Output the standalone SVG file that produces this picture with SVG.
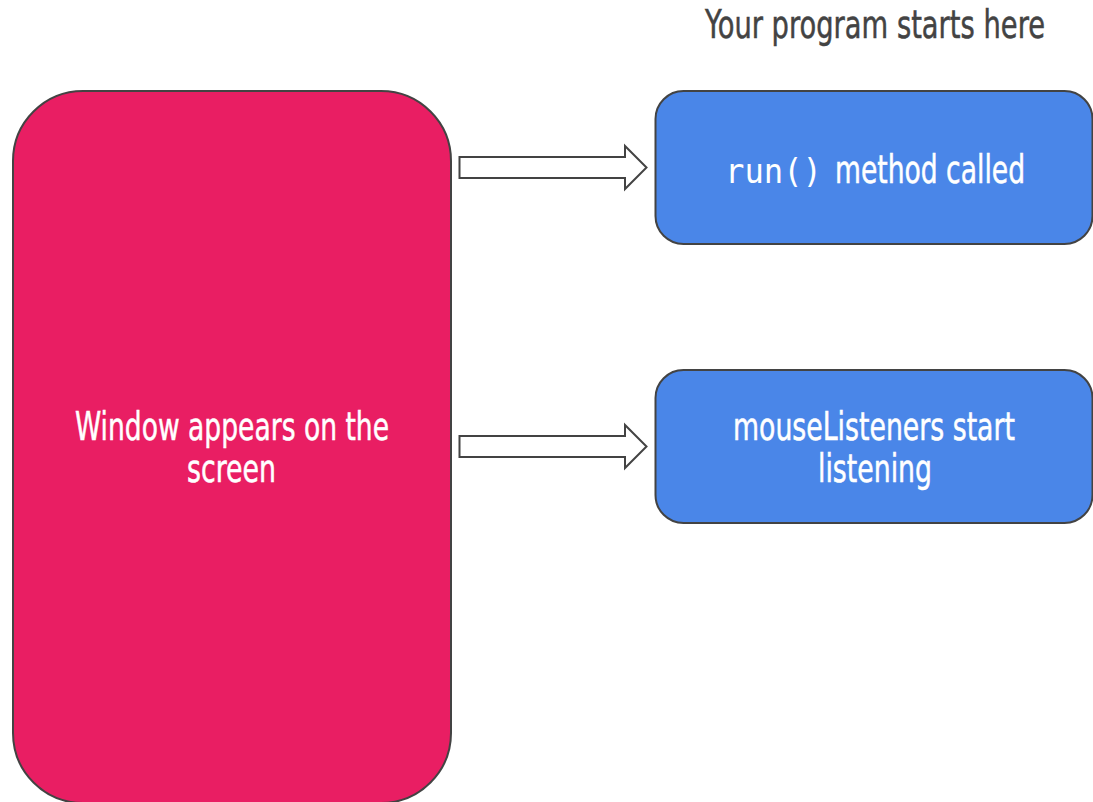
<svg xmlns="http://www.w3.org/2000/svg" width="1093" height="802" viewBox="0 0 1093 802">
<style>
.t{font-family:"DejaVu Sans Condensed","DejaVu Sans",sans-serif;font-stretch:condensed;font-size:39px;fill:#ffffff;stroke:#ffffff;stroke-width:0.5}
.m{font-family:"DejaVu Sans Mono","Liberation Mono",monospace;font-size:33px;fill:#ffffff}
.h{fill:#434343;stroke:#434343}
.box{stroke:#434343;stroke-width:2}
.arrow{fill:#ffffff;stroke:#434343;stroke-width:2;stroke-linejoin:miter}
</style>
<rect width="1093" height="802" fill="#ffffff"/>
<g id="title">
<text class="t h" transform="translate(705,38) scale(0.77,1)" textLength="441.6" lengthAdjust="spacingAndGlyphs">Your program starts here</text>
</g>
<g id="window">
<rect class="box" x="13" y="91" width="438" height="712" rx="70" ry="70" fill="#e91e63"/>
<text class="t" transform="translate(75,440) scale(0.77,1)" textLength="407.8" lengthAdjust="spacingAndGlyphs">Window appears on the</text>
<text class="t" transform="translate(187,482) scale(0.77,1)" textLength="115.6" lengthAdjust="spacingAndGlyphs">screen</text>
</g>
<g id="run">
<rect class="box" x="655.5" y="91" width="437" height="153" rx="28" ry="28" fill="#4a86e8"/>
<text class="m" x="725" y="183" textLength="97" lengthAdjust="spacingAndGlyphs">run()</text>
<text class="t" transform="translate(835,183) scale(0.77,1)" textLength="246.8" lengthAdjust="spacingAndGlyphs">method called</text>
</g>
<g id="mouse">
<rect class="box" x="655.5" y="370" width="437" height="153" rx="28" ry="28" fill="#4a86e8"/>
<text class="t" transform="translate(733,440) scale(0.77,1)" textLength="366.2" lengthAdjust="spacingAndGlyphs">mouseListeners start</text>
<text class="t" transform="translate(818,482) scale(0.77,1)" textLength="148" lengthAdjust="spacingAndGlyphs">listening</text>
</g>
<g id="connectors">
<path class="arrow" d="M459.5 157 H625 V146 L646.5 167.5 L625 189 V178 H459.5 Z"/>
<path class="arrow" d="M459.5 436 H625 V425 L646.5 446.5 L625 468 V457 H459.5 Z"/>
</g>
</svg>
